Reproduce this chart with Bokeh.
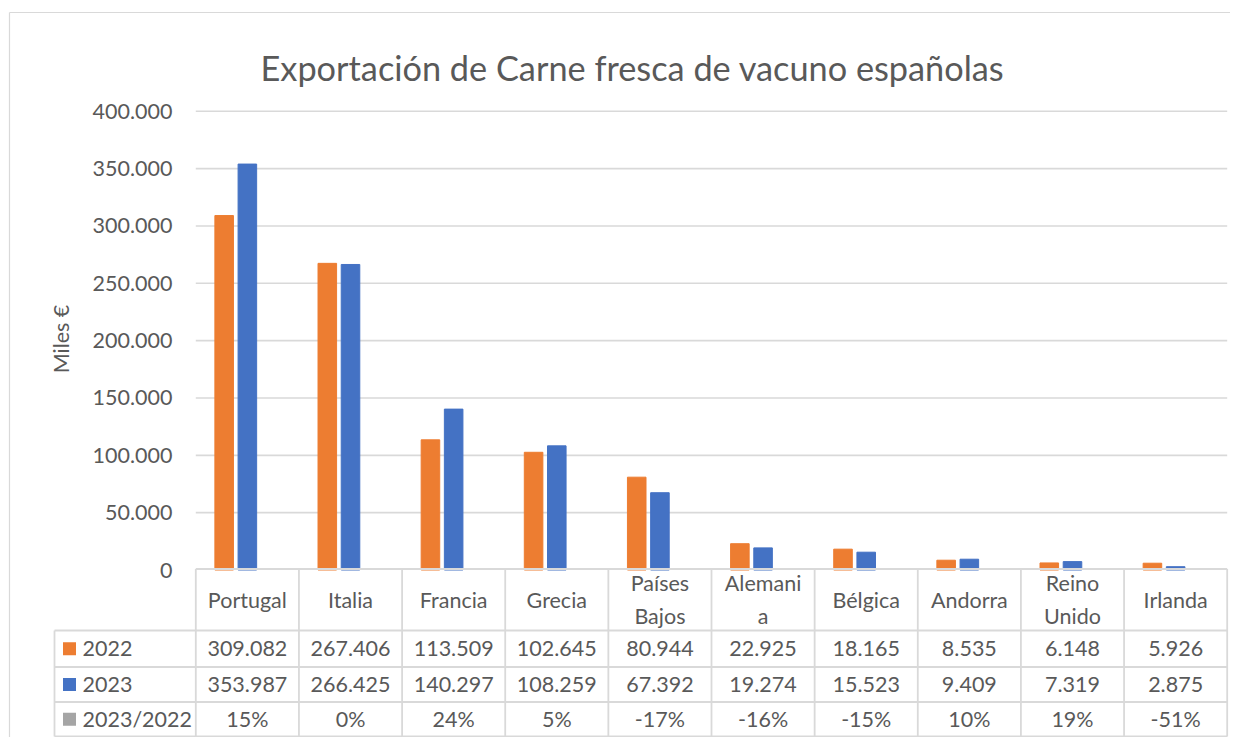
import math
from bokeh.plotting import figure
from bokeh.models import Range1d
from bokeh.core.properties import value
from bokeh.embed import file_html
from bokeh.resources import INLINE

# ---------------- data ----------------
title_text = "Exportación de Carne fresca de vacuno españolas"
y_axis_label = "Miles €"
categories = ["Portugal", "Italia", "Francia", "Grecia", "Países Bajos",
              "Alemania", "Bélgica", "Andorra", "Reino Unido", "Irlanda"]
header_labels = ["Portugal", "Italia", "Francia", "Grecia", "Países\nBajos",
                 "Alemani\na", "Bélgica", "Andorra", "Reino\nUnido", "Irlanda"]
series_names = ["2022", "2023", "2023/2022"]
v2022 = [309082, 267406, 113509, 102645, 80944, 22925, 18165, 8535, 6148, 5926]
v2023 = [353987, 266425, 140297, 108259, 67392, 19274, 15523, 9409, 7319, 2875]
pct_change = [15, 0, 24, 5, -17, -16, -15, 10, 19, -51]
y_ticks = [0, 50000, 100000, 150000, 200000, 250000, 300000, 350000, 400000]

# ---------------- style / layout ----------------
W, H = 1230, 737
FONT = value("Lato")
TXT = "#595959"
GRID = "#d9d9d9"
COLORS = ["#ED7D31", "#4472C4", "#A5A5A5"]
FS = "21.5px"

plot_left, plot_right = 195.3, 1226.7      # px of category area
y0_px, ytop_px = 569.5, 110.8              # px of 0 and 400.000
n = len(categories)
unit = (plot_right - plot_left) / n
x_start = -plot_left / unit
x_end = (W - plot_left) / unit
vpp = y_ticks[-1] / (y0_px - ytop_px)
y_end = y0_px * vpp
y_start = -(H - y0_px) * vpp


def fmt(v):
    return f"{v:,}".replace(",", ".")


p = figure(width=W, height=H, x_range=Range1d(x_start, x_end),
           y_range=Range1d(y_start, y_end), output_backend="svg",
           toolbar_location=None, min_border=0,
           x_axis_type=None, y_axis_type=None)
p.outline_line_color = None
p.background_fill_color = "white"
p.border_fill_color = "white"
p.extra_x_ranges = {"px": Range1d(0, W)}
p.extra_y_ranges = {"px": Range1d(H, 0)}

# chart border (left & top)
p.segment(x0=[9, 9], y0=[12, 12], x1=[9, W], y1=[H, 12], line_color=GRID,
          line_width=1.2, x_range_name="px", y_range_name="px")

# gridlines
p.segment(x0=0, x1=n, y0=y_ticks[1:], y1=y_ticks[1:], line_color=GRID,
          line_width=1.6)

# bars
xs = [i + 0.5 for i in range(n)]
off, bw = 0.225, 0.18
p.vbar(x=[x - off for x in xs], top=v2022, width=bw, bottom=0,
       fill_color=COLORS[0], line_color=COLORS[0])
p.vbar(x=xs, top=v2023, width=bw, bottom=0,
       fill_color=COLORS[1], line_color=COLORS[1])

# y tick labels
p.text(x=172, y=y_ticks, text=[fmt(v) for v in y_ticks], x_range_name="px",
       text_align="right", text_baseline="middle", text_font=FONT,
       text_font_size=FS, text_color=TXT)

# y axis label
p.text(x=[60], y=[338.5], text=[y_axis_label], angle=math.pi / 2,
       x_range_name="px", y_range_name="px", text_align="center",
       text_baseline="middle", text_font=FONT, text_font_size=FS,
       text_color=TXT)

# title
p.text(x=[632], y=[67], text=[title_text], x_range_name="px",
       y_range_name="px", text_align="center", text_baseline="alphabetic",
       text_font=FONT, text_font_size="34.3px", text_color=TXT)

# ---------------- data table ----------------
row_lines = [568.5, 630.0, 666.5, 701.5, 736.0]
legend_left = (54 - plot_left) / unit
# horizontal lines
p.segment(x0=0, x1=n, y0=row_lines[0], y1=row_lines[0], y_range_name="px",
          line_color=GRID, line_width=1.8)
p.segment(x0=legend_left, x1=n, y0=row_lines[1:], y1=row_lines[1:],
          y_range_name="px", line_color=GRID, line_width=1.8)
# vertical lines
p.segment(x0=list(range(n + 1)), x1=list(range(n + 1)), y0=row_lines[0],
          y1=row_lines[-1], y_range_name="px", line_color=GRID, line_width=1.8)
p.segment(x0=legend_left, x1=legend_left, y0=row_lines[1], y1=row_lines[-1],
          y_range_name="px", line_color=GRID, line_width=1.8)

# header
p.text(x=xs, y=599.0, text=header_labels, y_range_name="px",
       text_align="center", text_baseline="middle", text_font=FONT,
       text_font_size=FS, text_color=TXT, text_line_height=1.3)

row_centers = [(row_lines[i] + row_lines[i + 1]) / 2 for i in range(1, 4)]
row_texts = [[fmt(v) for v in v2022], [fmt(v) for v in v2023],
             [f"{v}%" for v in pct_change]]
for rc, texts in zip(row_centers, row_texts):
    p.text(x=xs, y=rc, text=texts, y_range_name="px", text_align="center",
           text_baseline="middle", text_font=FONT, text_font_size=FS,
           text_color=TXT)

# legend keys and names
p.rect(x=69, y=row_centers, width=13, height=13, x_range_name="px",
       y_range_name="px", fill_color=COLORS, line_color=None)
p.text(x=82, y=row_centers, text=series_names, x_range_name="px",
       y_range_name="px", text_align="left", text_baseline="middle",
       text_font=FONT, text_font_size=FS, text_color=TXT)

open("out.html", "w").write(file_html(p, INLINE))
